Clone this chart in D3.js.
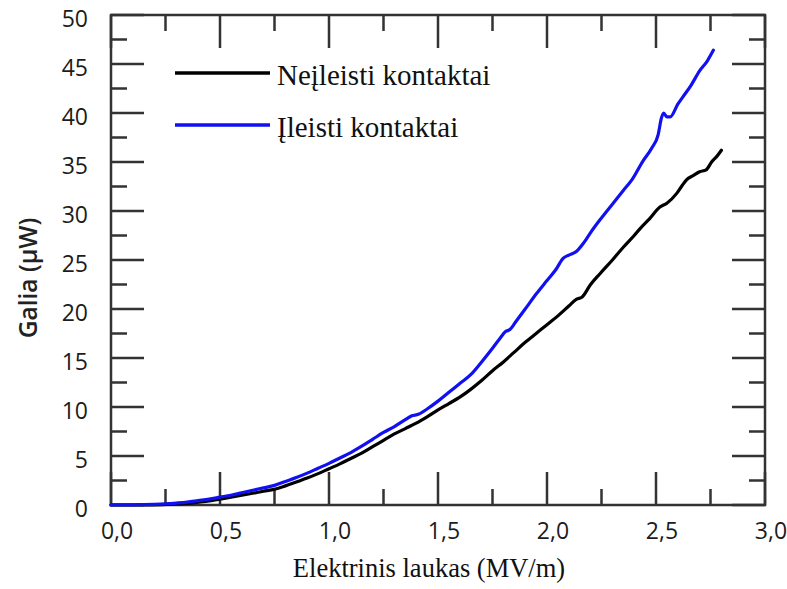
<!DOCTYPE html>
<html>
<head>
<meta charset="utf-8">
<script src="https://cdn.jsdelivr.net/npm/d3@7"></script>
<style>
  html, body { margin: 0; padding: 0; background: #fff; }
  svg { display: block; }
  .tick-label { font-family: "Open Sans", "Noto Sans", sans-serif; font-size: 23px; fill: #1c1c1c; }
  .serif { font-family: "Liberation Serif", "DejaVu Serif", serif; fill: #111; }
</style>
</head>
<body>
<svg id="chart" width="787" height="589"></svg>
<script>
// Electric field (MV/m) and power (µW), sample without embedded contacts
const fieldNe = [0, 0.1, 0.2, 0.3, 0.35, 0.4, 0.45, 0.5, 0.55, 0.6, 0.65, 0.7, 0.75, 0.8, 0.85, 0.9, 0.95,
  1.0, 1.05, 1.1, 1.15, 1.2, 1.25, 1.3, 1.35, 1.4, 1.45, 1.5, 1.55, 1.6, 1.65, 1.7, 1.75, 1.8, 1.85, 1.9,
  1.95, 2.0, 2.05, 2.1, 2.136, 2.16, 2.2, 2.243, 2.3, 2.35, 2.4, 2.427, 2.47, 2.518, 2.55, 2.595, 2.62,
  2.641, 2.67, 2.70, 2.73, 2.755, 2.78, 2.80];
const powerNe = [0, 0, 0.02, 0.1, 0.15, 0.28, 0.42, 0.6, 0.8, 1.0, 1.2, 1.4, 1.6, 1.95, 2.35, 2.75, 3.2,
  3.7, 4.2, 4.75, 5.3, 5.95, 6.6, 7.25, 7.8, 8.35, 9.0, 9.7, 10.35, 11.0, 11.8, 12.7, 13.7, 14.6, 15.6, 16.6,
  17.5, 18.4, 19.3, 20.3, 21.0, 21.2, 22.5, 23.6, 25.0, 26.3, 27.5, 28.2, 29.2, 30.4, 30.8, 31.8, 32.6,
  33.2, 33.6, 34.0, 34.2, 35.0, 35.6, 36.2];

// Sample with embedded contacts
const fieldI = [0, 0.05, 0.1, 0.15, 0.2, 0.25, 0.3, 0.35, 0.4, 0.45, 0.5, 0.55, 0.6, 0.65, 0.7, 0.75, 0.8,
  0.85, 0.9, 0.95, 1.0, 1.05, 1.1, 1.15, 1.2, 1.25, 1.3, 1.35, 1.38, 1.41, 1.45, 1.5, 1.55, 1.6, 1.65,
  1.7, 1.75, 1.784, 1.81, 1.83, 1.86, 1.9, 1.953, 2.0, 2.04, 2.075, 2.1, 2.136, 2.17, 2.2, 2.243, 2.3,
  2.35, 2.39, 2.44, 2.48, 2.51, 2.525, 2.535, 2.55, 2.565, 2.6, 2.625, 2.66, 2.7, 2.735, 2.763];
const powerI = [0, 0.01, 0.02, 0.04, 0.07, 0.12, 0.2, 0.3, 0.45, 0.6, 0.8, 1.0, 1.25, 1.5, 1.75, 2.0, 2.4,
  2.8, 3.25, 3.75, 4.25, 4.8, 5.35, 6.0, 6.7, 7.4, 8.0, 8.7, 9.1, 9.25, 9.8, 10.6, 11.5, 12.4, 13.3,
  14.6, 16.0, 17.0, 17.7, 17.9, 18.8, 20.0, 21.6, 22.9, 24.0, 25.2, 25.5, 25.9, 26.8, 27.8, 29.1, 30.7,
  32.1, 33.2, 35.1, 36.4, 37.8, 39.5, 40.0, 39.6, 39.6, 40.9, 41.7, 42.8, 44.3, 45.3, 46.4];

const seriesNames = ["Neįleisti kontaktai", "Įleisti kontaktai"];
const seriesColors = ["#000000", "#1010f0"];
const xMajorTicks = [0, 0.5, 1.0, 1.5, 2.0, 2.5, 3.0];
const xMinorTicks = [0.25, 0.75, 1.25, 1.75, 2.25, 2.75];
const yMajorTicks = [0, 5, 10, 15, 20, 25, 30, 35, 40, 45, 50];
const yMinorTicks = [2.5, 7.5, 12.5, 17.5, 22.5, 27.5, 32.5, 37.5, 42.5, 47.5];
const xTitle = "Elektrinis laukas (MV/m)";
const yTitle = "Galia (µW)";

const svg = d3.select("#chart");
const m = { left: 111, top: 15, right: 22, bottom: 84 };
const W = 787 - m.left - m.right;
const H = 589 - m.top - m.bottom;

const x = d3.scaleLinear().domain([0, 3]).range([0, W]);
const y = d3.scaleLinear().domain([0, 50]).range([H, 0]);

const g = svg.append("g").attr("transform", `translate(${m.left},${m.top})`);

const axisColor = "#333";
const majorLen = 33, minorLen = 16;

// Frame
g.append("rect").attr("x", 0).attr("y", 0).attr("width", W).attr("height", H)
  .attr("fill", "none").attr("stroke", axisColor).attr("stroke-width", 2.5);

// Inward ticks on all four sides of the frame
const tickSpecs = [];
xMajorTicks.forEach(v => tickSpecs.push({ axis: "x", v, len: majorLen }));
xMinorTicks.forEach(v => tickSpecs.push({ axis: "x", v, len: minorLen }));
yMajorTicks.forEach(v => tickSpecs.push({ axis: "y", v, len: majorLen }));
yMinorTicks.forEach(v => tickSpecs.push({ axis: "y", v, len: minorLen }));

const tickPath = d3.path();
tickSpecs.forEach(t => {
  if (t.axis === "x") {
    const px = x(t.v);
    tickPath.moveTo(px, H); tickPath.lineTo(px, H - t.len);
    tickPath.moveTo(px, 0); tickPath.lineTo(px, t.len);
  } else {
    const py = y(t.v);
    tickPath.moveTo(0, py); tickPath.lineTo(t.len, py);
    tickPath.moveTo(W, py); tickPath.lineTo(W - t.len, py);
  }
});
g.append("path").attr("d", tickPath.toString())
  .attr("fill", "none").attr("stroke", axisColor).attr("stroke-width", 2.5);

// Tick labels (decimal comma)
const fmt = d => d3.format(".1f")(d).replace(".", ",");
g.append("g").selectAll("text").data(xMajorTicks).join("text")
  .attr("class", "tick-label")
  .attr("x", d => x(d) + 6).attr("y", H + 34)
  .attr("text-anchor", "middle").text(fmt);
g.append("g").selectAll("text").data(yMajorTicks).join("text")
  .attr("class", "tick-label")
  .attr("x", -23).attr("y", d => y(d) + 12)
  .attr("text-anchor", "end").text(d => d);

// Curves
const line = d3.line().x(d => x(d[0])).y(d => y(d[1])).curve(d3.curveMonotoneX);
const dataNe = fieldNe.map((f, i) => [f, powerNe[i]]);
const dataI = fieldI.map((f, i) => [f, powerI[i]]);
[dataNe, dataI].forEach((d, i) => {
  g.append("path").datum(d)
    .attr("fill", "none").attr("stroke", seriesColors[i])
    .attr("stroke-width", 3.2).attr("stroke-linejoin", "round").attr("stroke-linecap", "round")
    .attr("d", line);
});

// Legend
const legend = g.append("g").attr("transform", "translate(64,58)");
seriesNames.forEach((name, i) => {
  const row = legend.append("g").attr("transform", `translate(0,${i * 52})`);
  row.append("line").attr("x1", 0).attr("x2", 95).attr("y1", 0).attr("y2", 0)
    .attr("stroke", seriesColors[i]).attr("stroke-width", 3.5);
  row.append("text").attr("class", "serif").attr("x", 102).attr("y", 12)
    .style("font-size", "29px").text(name);
});

// Axis titles
svg.append("text").attr("class", "serif")
  .attr("x", m.left + W / 2 - 9).attr("y", 577)
  .attr("text-anchor", "middle").style("font-size", "26.5px").text(xTitle);
svg.append("text")
  .attr("transform", `translate(37,${m.top + 263}) rotate(-90)`)
  .attr("text-anchor", "middle")
  .style("font-family", "'Open Sans', 'Noto Sans', sans-serif")
  .style("font-weight", "600").style("font-size", "24.5px").style("fill", "#222")
  .text(yTitle);
</script>
</body>
</html>
